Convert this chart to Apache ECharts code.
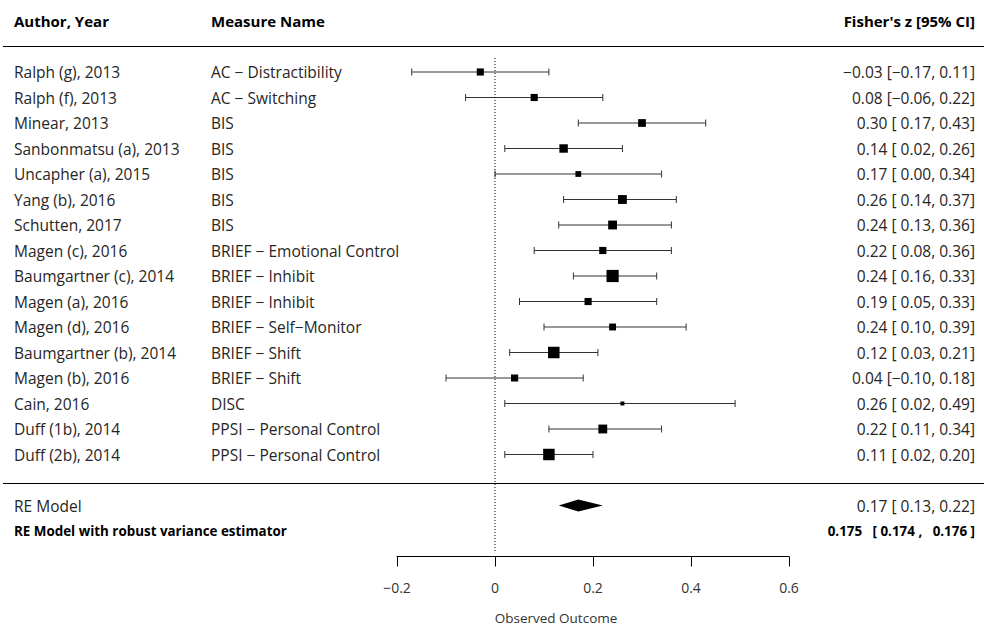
<!DOCTYPE html>
<html>
<head>
<meta charset="utf-8">
<script src="https://cdn.jsdelivr.net/npm/echarts@6/dist/echarts.min.js"></script>
<style>
  html, body { margin: 0; padding: 0; background: #fff; }
  #chart { width: 984px; height: 627px; }
</style>
</head>
<body>
<div id="chart"></div>
<script>
// Study labels
const authors = [
  'Ralph (g), 2013', 'Ralph (f), 2013', 'Minear, 2013', 'Sanbonmatsu (a), 2013',
  'Uncapher (a), 2015', 'Yang (b), 2016', 'Schutten, 2017', 'Magen (c), 2016',
  'Baumgartner (c), 2014', 'Magen (a), 2016', 'Magen (d), 2016', 'Baumgartner (b), 2014',
  'Magen (b), 2016', 'Cain, 2016', 'Duff (1b), 2014', 'Duff (2b), 2014'
];
const measures = [
  'AC − Distractibility', 'AC − Switching', 'BIS', 'BIS', 'BIS', 'BIS', 'BIS',
  'BRIEF − Emotional Control', 'BRIEF − Inhibit', 'BRIEF − Inhibit', 'BRIEF − Self−Monitor',
  'BRIEF − Shift', 'BRIEF − Shift', 'DISC', 'PPSI − Personal Control', 'PPSI − Personal Control'
];
// Fisher's z with 95% CI
const estimates = [-0.03, 0.08, 0.30, 0.14, 0.17, 0.26, 0.24, 0.22, 0.24, 0.19, 0.24, 0.12, 0.04, 0.26, 0.22, 0.11];
const lower     = [-0.17, -0.06, 0.17, 0.02, 0.00, 0.14, 0.13, 0.08, 0.16, 0.05, 0.10, 0.03, -0.10, 0.02, 0.11, 0.02];
const upper     = [0.11, 0.22, 0.43, 0.26, 0.34, 0.37, 0.36, 0.36, 0.33, 0.33, 0.39, 0.21, 0.18, 0.49, 0.34, 0.20];
// Pooled random-effects estimate [est, lower, upper]
const reModel = [0.17, 0.13, 0.22];
// Robust variance estimator result [est, lower, upper]
const robustModel = [0.175, 0.174, 0.176];
// Outcome axis ticks
const xTicks = [-0.2, 0, 0.2, 0.4, 0.6];

const FONT = '"Open Sans", "Noto Sans", sans-serif';
const TEXT_COLOR = '#262626';
const BODY_SIZE = 15.5;
const k = estimates.length;
const RE_ROW = k + 1;
const ROBUST_ROW = k + 2;

// Marker size follows precision (1/SE derived from CI width), scaled between min and max
const precision = lower.map((lb, i) => 3.92 / (upper[i] - lb));
const pMin = Math.min(...precision), pMax = Math.max(...precision);
const markerSize = precision.map(p => 4 + 8.2 * (p - pMin) / (pMax - pMin));

const signed = v => (v < 0 ? '−' : ' ') + Math.abs(v).toFixed(2);
const ciText = (e, lb, ub) =>
  (e < 0 ? '−' : '') + Math.abs(e).toFixed(2) + ' [' + signed(lb) + ', ' + signed(ub).trim() + ']';

const studyData = estimates.map((e, i) => [e, i, lower[i], upper[i], markerSize[i]]);

function txt(x, y, text, opts) {
  return {
    type: 'text', x: x, y: y,
    style: Object.assign({
      text: text, fontFamily: FONT, fontSize: BODY_SIZE, fill: TEXT_COLOR,
      align: 'left', verticalAlign: 'middle'
    }, opts || {})
  };
}

const chart = echarts.init(document.getElementById('chart'), null, { renderer: 'svg' });

chart.setOption({
  animation: false,
  grid: { left: 397, right: 195, top: 0.6, bottom: 70.5 },
  xAxis: {
    type: 'value',
    position: 'bottom',
    min: xTicks[0], max: xTicks[xTicks.length - 1], interval: 0.2,
    splitLine: { show: false },
    axisLine: { show: true, onZero: false, lineStyle: { color: '#000', width: 1 } },
    axisTick: { show: true, length: 10, lineStyle: { color: '#000', width: 1 } },
    axisLabel: {
      color: '#333', fontSize: 14, fontFamily: FONT, margin: 24,
      formatter: v => v === 0 ? '0' : (v < 0 ? '−' : '') + Math.abs(v).toFixed(1)
    }
  },
  yAxis: {
    type: 'value', inverse: true, min: -2.8, max: 19, show: false
  },
  series: [
    {
      // vertical reference line at zero
      type: 'line',
      data: [[0, -0.55], [0, 18.85]],
      symbol: 'none',
      silent: true,
      lineStyle: { color: '#000', width: 1, type: [1, 2] }
    },
    {
      // confidence intervals and weighted squares
      type: 'custom',
      data: studyData,
      encode: { x: 0, y: 1 },
      clip: false,
      renderItem(params, api) {
        const row = api.value(1);
        const pe = api.coord([api.value(0), row]);
        const pl = api.coord([api.value(2), row]);
        const pu = api.coord([api.value(3), row]);
        const s = api.value(4);
        const y = pe[1];
        const ls = { stroke: '#333', lineWidth: 1 };
        return {
          type: 'group',
          children: [
            { type: 'line', shape: { x1: pl[0], y1: y, x2: pu[0], y2: y }, style: ls },
            { type: 'line', shape: { x1: pl[0], y1: y - 3.5, x2: pl[0], y2: y + 3.5 }, style: ls },
            { type: 'line', shape: { x1: pu[0], y1: y - 3.5, x2: pu[0], y2: y + 3.5 }, style: ls },
            { type: 'rect', shape: { x: pe[0] - s / 2, y: y - s / 2, width: s, height: s }, style: { fill: '#000' } }
          ]
        };
      }
    },
    {
      // study text columns
      type: 'custom',
      data: studyData,
      encode: { x: 0, y: 1 },
      clip: false,
      renderItem(params, api) {
        const i = params.dataIndex;
        const y = api.coord([0, api.value(1)])[1];
        return {
          type: 'group',
          children: [
            txt(14, y, authors[i]),
            txt(211, y, measures[i]),
            txt(975, y, ciText(estimates[i], lower[i], upper[i]), { align: 'right' })
          ]
        };
      }
    },
    {
      // pooled estimate diamond
      type: 'custom',
      data: [[reModel[0], RE_ROW, reModel[1], reModel[2]]],
      encode: { x: 0, y: 1 },
      clip: false,
      renderItem(params, api) {
        const row = api.value(1);
        const pe = api.coord([api.value(0), row]);
        const pl = api.coord([api.value(2), row]);
        const pu = api.coord([api.value(3), row]);
        const y = pe[1];
        return {
          type: 'polygon',
          shape: { points: [[pl[0], y], [pe[0], y - 6], [pu[0], y], [pe[0], y + 6]] },
          style: { fill: '#000' }
        };
      }
    },
    {
      // headers, rules, summary rows and outcome axis title
      type: 'custom',
      data: [[0, 0]],
      encode: { x: 0, y: 1 },
      clip: false,
      renderItem(params, api) {
        const yHead = api.coord([0, -2])[1];
        const yRule1 = Math.round(api.coord([0, -1])[1]) + 0.5;
        const yRule2 = Math.round(api.coord([0, k + 0.1])[1]) + 0.5;
        const yRe = api.coord([0, RE_ROW])[1];
        const yRob = api.coord([0, ROBUST_ROW])[1];
        const bold = { fontWeight: 'bold', fill: '#000', fontSize: 15 };
        const rule = { stroke: '#000', lineWidth: 1.2 };
        const small = { fontWeight: 'bold', fontSize: 13.4, fill: '#000' };
        return {
          type: 'group',
          children: [
            txt(14, yHead, 'Author, Year', bold),
            txt(211, yHead, 'Measure Name', bold),
            txt(975, yHead, "Fisher's z [95% CI]", Object.assign({ align: 'right' }, bold)),
            { type: 'line', shape: { x1: 3, y1: yRule1, x2: 984, y2: yRule1 }, style: rule },
            { type: 'line', shape: { x1: 3, y1: yRule2, x2: 984, y2: yRule2 }, style: rule },
            txt(14, yRe, 'RE Model'),
            txt(975, yRe, ciText(reModel[0], reModel[1], reModel[2]), { align: 'right' }),
            txt(14, yRob, 'RE Model with robust variance estimator', small),
            txt(975, yRob,
              robustModel[0].toFixed(3) + '   [ ' + robustModel[1].toFixed(3) + ' ,   ' + robustModel[2].toFixed(3) + ' ]',
              Object.assign({ align: 'right' }, small)),
            txt(556, 618, 'Observed Outcome', { align: 'center', fontSize: 13.5, fill: '#333' })
          ]
        };
      }
    }
  ]
});
</script>
</body>
</html>
